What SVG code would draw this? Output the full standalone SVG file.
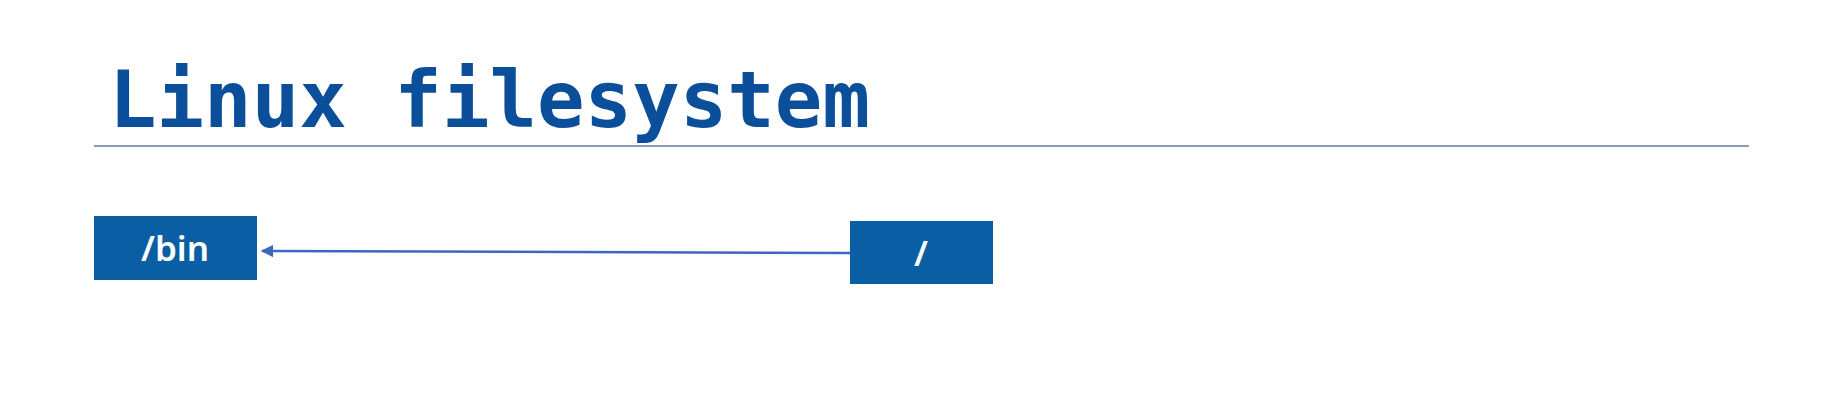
<svg xmlns="http://www.w3.org/2000/svg" width="1836" height="408" viewBox="0 0 1836 408">
<style>
.title{font-family:"DejaVu Sans Mono","Liberation Mono",monospace;font-weight:bold;font-size:79px;fill:#0b4f9b}
.box{fill:#0a5fa4}
.lbl{font-family:"Noto Sans","Open Sans",sans-serif;font-size:35px;fill:#ffffff;text-anchor:middle;font-weight:600}
.conn{stroke:#3a68bd;stroke-width:2.5;fill:none}
</style>
<defs>
<marker id="arr" viewBox="0 0 10 10" refX="9" refY="5" markerWidth="5" markerHeight="5" orient="auto" markerUnits="strokeWidth">
<path d="M0,0 L10,5 L0,10 z" fill="#3a68bd"/>
</marker>
</defs>
<rect width="1836" height="408" fill="#ffffff"/>
<text class="title" x="109" y="127">Linux filesystem</text>
<line x1="94" y1="146" x2="1749" y2="146" stroke="#8d9bb5" stroke-width="2"/>
<g id="connectors">
<line class="conn" x1="850" y1="253" x2="262" y2="251" marker-end="url(#arr)"/>
</g>
<g id="node-bin">
<rect class="box" x="94" y="216" width="163" height="64"/>
<text class="lbl" x="175" y="261">/bin</text>
</g>
<g id="node-root">
<rect class="box" x="850" y="221" width="143" height="63"/>
<text class="lbl" x="921" y="266">/</text>
</g>
</svg>
